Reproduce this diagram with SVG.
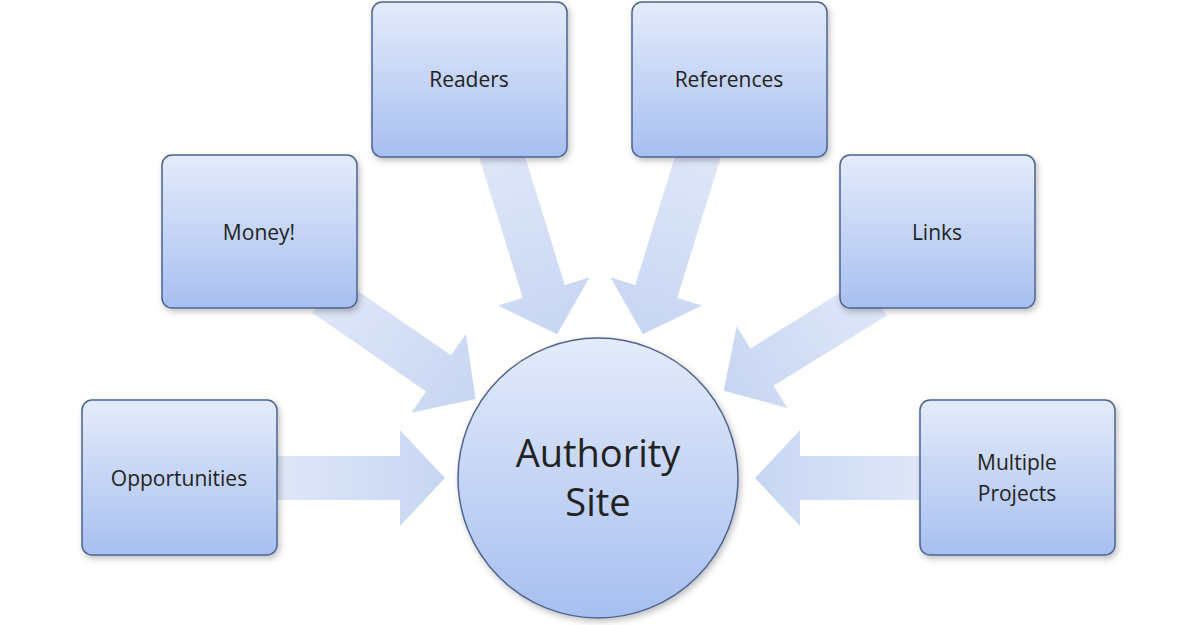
<svg xmlns="http://www.w3.org/2000/svg" width="1200" height="625" viewBox="0 0 1200 625">
<style>
.box{fill:url(#bg);stroke:#4e6390;stroke-width:1.5}
.t{font-family:"Open Sans","Liberation Sans",sans-serif;font-size:21px;fill:#222;text-anchor:middle}
.arr{fill:url(#ag)}
</style>
<defs>
<linearGradient id="bg" x1="0" y1="0" x2="0" y2="1"><stop offset="0" stop-color="#e4ebfb"/><stop offset="1" stop-color="#a7bff0"/></linearGradient>
<linearGradient id="ag" x1="0" y1="0" x2="1" y2="0"><stop offset="0" stop-color="#dfe7f8"/><stop offset="1" stop-color="#c8d6f3"/></linearGradient>
<filter id="sh" x="-10%" y="-10%" width="130%" height="130%"><feDropShadow dx="2" dy="3" stdDeviation="3" flood-color="#000" flood-opacity="0.25"/></filter>
</defs>
<g id="connectors">
<path class="arr" transform="translate(277,478)" d="M0,-22 H123 V-48 L168,0 L123,48 V22 H0 Z"/>
<path class="arr" transform="translate(920,478) rotate(180)" d="M0,-22 H120 V-48 L165,0 L120,48 V22 H0 Z"/>
<path class="arr" transform="translate(500,150) rotate(72.8)" d="M0,-22 H148 V-48 L193,0 L148,48 V22 H0 Z"/>
<path class="arr" transform="translate(700,150) rotate(107.2)" d="M0,-22 H148 V-48 L193,0 L148,48 V22 H0 Z"/>
<path class="arr" transform="translate(325,295) rotate(34.6)" d="M0,-22 H138 V-48 L183,0 L138,48 V22 H0 Z"/>
<path class="arr" transform="translate(875,297) rotate(148.2)" d="M0,-22 H133 V-48 L178,0 L133,48 V22 H0 Z"/>
</g>
<g id="center"><circle cx="598" cy="478" r="140" class="box" filter="url(#sh)"/>
<text class="t" x="598" y="467" style="font-size:38px">Authority</text><text class="t" x="598" y="516" style="font-size:38px">Site</text></g>
<g id="readers"><rect x="372" y="2" width="195" height="155" rx="10" class="box" filter="url(#sh)"/><text class="t" x="469" y="87">Readers</text></g>
<g id="references"><rect x="632" y="2" width="195" height="155" rx="10" class="box" filter="url(#sh)"/><text class="t" x="729" y="87">References</text></g>
<g id="money"><rect x="162" y="155" width="195" height="153" rx="10" class="box" filter="url(#sh)"/><text class="t" x="259" y="240">Money!</text></g>
<g id="links"><rect x="840" y="155" width="195" height="153" rx="10" class="box" filter="url(#sh)"/><text class="t" x="937" y="240">Links</text></g>
<g id="opportunities"><rect x="82" y="400" width="195" height="155" rx="10" class="box" filter="url(#sh)"/><text class="t" x="179" y="486">Opportunities</text></g>
<g id="multiple"><rect x="920" y="400" width="195" height="155" rx="10" class="box" filter="url(#sh)"/><text class="t" x="1017" y="470">Multiple</text><text class="t" x="1017" y="501">Projects</text></g>
</svg>
